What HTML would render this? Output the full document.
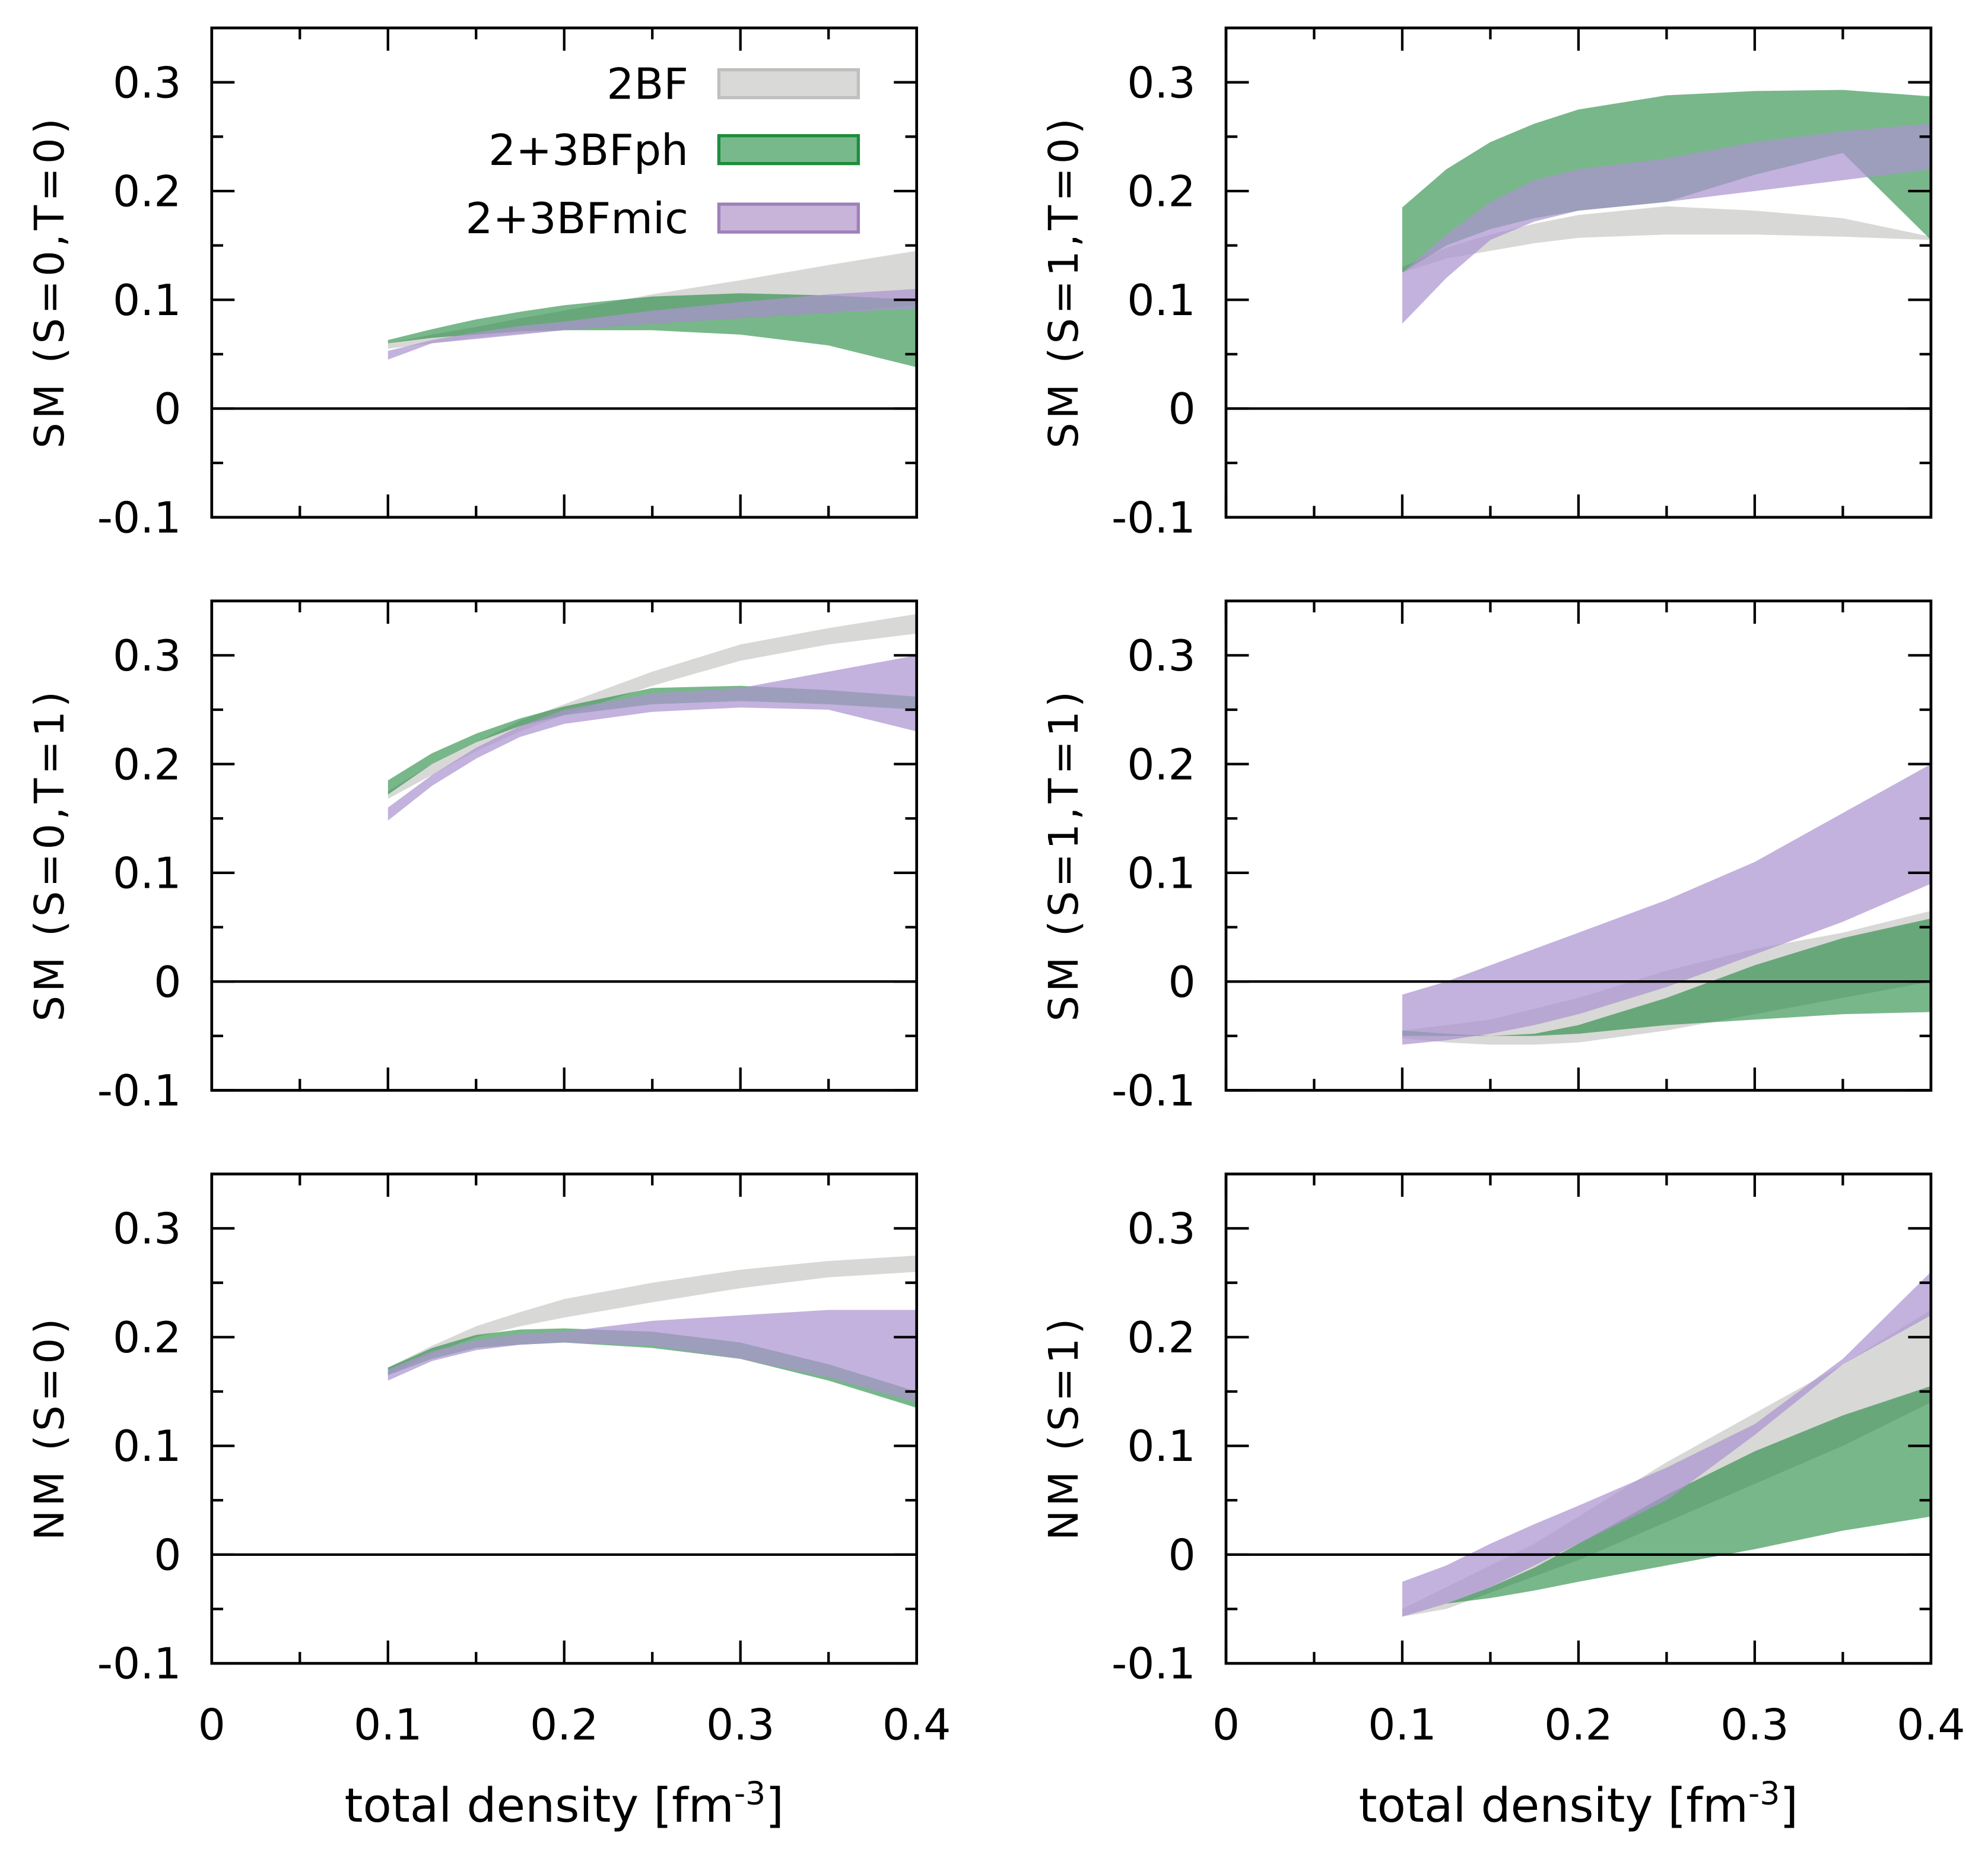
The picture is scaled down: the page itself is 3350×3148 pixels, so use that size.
<!DOCTYPE html>
<html><head><meta charset="utf-8"><style>
html,body{margin:0;padding:0;background:#fff}
svg{display:block}
text{font-family:"DejaVu Sans","Liberation Sans",sans-serif;fill:#000}
</style></head><body>
<svg id="chart" width="3350" height="3148" viewBox="0 0 1568 1473.4" xmlns="http://www.w3.org/2000/svg"></svg>
<script>
const xs = [0.1,0.125,0.15,0.175,0.2,0.25,0.3,0.35,0.4];
const xTicks = [0,0.1,0.2,0.3,0.4];
const xTickLabels = ["0","0.1","0.2","0.3","0.4"];
const yTicks = [0.3,0.2,0.1,0,-0.1];
const yTickLabels = ["0.3","0.2","0.1","0","-0.1"];
const panelTitles = ["SM (S=0,T=0)","SM (S=1,T=0)","SM (S=0,T=1)","SM (S=1,T=1)","NM (S=0)","NM (S=1)"];
const seriesNames = ["2BF","2+3BFph","2+3BFmic"];
// panel 1
const p1GrayLo=[.055,.060,.065,.069,.072,.078,.083,.088,.095];
const p1GrayHi=[.060,.068,.075,.083,.090,.105,.118,.132,.145];
const p1GreenLo=[.060,.065,.068,.071,.072,.072,.068,.058,.038];
const p1GreenHi=[.063,.073,.082,.089,.095,.103,.106,.104,.100];
const p1PurpLo=[.045,.060,.064,.068,.072,.078,.083,.088,.092];
const p1PurpHi=[.053,.063,.070,.076,.080,.090,.098,.105,.110];
// panel 2
const p2GrayLo=[.125,.138,.145,.152,.157,.160,.160,.158,.155];
const p2GrayHi=[.130,.148,.160,.170,.178,.186,.182,.175,.158];
const p2GreenLo=[.125,.150,.165,.175,.182,.190,.215,.235,.155];
const p2GreenHi=[.185,.220,.245,.262,.275,.288,.292,.293,.287];
const p2PurpLo=[.078,.120,.155,.172,.182,.190,.200,.210,.220];
const p2PurpHi=[.125,.160,.190,.210,.220,.230,.245,.255,.262];
// panel 3
const p3GrayLo=[.168,.190,.212,.230,.245,.272,.295,.310,.320];
const p3GrayHi=[.175,.200,.220,.240,.255,.285,.310,.325,.338];
const p3GreenLo=[.172,.200,.220,.235,.245,.255,.258,.255,.250];
const p3GreenHi=[.185,.210,.228,.242,.253,.270,.272,.268,.262];
const p3PurpLo=[.148,.180,.205,.225,.237,.248,.252,.250,.230];
const p3PurpHi=[.160,.190,.215,.235,.250,.265,.270,.285,.300];
// panel 4
const p4GrayLo=[-.052,-.056,-.058,-.058,-.056,-.045,-.030,-.015,.000];
const p4GrayHi=[-.045,-.040,-.035,-.025,-.015,.010,.030,.045,.065];
const p4GreenLo=[-.050,-.050,-.050,-.050,-.048,-.040,-.035,-.030,-.028];
const p4GreenHi=[-.045,-.048,-.050,-.048,-.040,-.015,.015,.040,.058];
const p4PurpLo=[-.058,-.054,-.048,-.040,-.030,-.005,.025,.055,.090];
const p4PurpHi=[-.012,.000,.015,.030,.045,.075,.110,.155,.200];
// panel 5
const p5GrayLo=[.165,.185,.200,.210,.218,.232,.245,.255,.260];
const p5GrayHi=[.172,.192,.210,.223,.235,.250,.262,.270,.275];
const p5GreenLo=[.165,.180,.190,.193,.195,.190,.180,.160,.135];
const p5GreenHi=[.172,.190,.202,.207,.208,.205,.195,.175,.150];
const p5PurpLo=[.160,.178,.188,.193,.195,.192,.180,.163,.140];
const p5PurpHi=[.170,.187,.197,.203,.205,.215,.220,.225,.225];
// panel 6
const p6GrayLo=[-.057,-.050,-.035,-.020,-.005,.030,.065,.100,.140];
const p6GrayHi=[-.050,-.030,-.010,.010,.035,.085,.130,.175,.225];
const p6GreenLo=[-.050,-.045,-.040,-.033,-.025,-.010,.005,.022,.035];
const p6GreenHi=[-.050,-.045,-.030,-.012,.010,.055,.095,.128,.155];
const p6PurpLo=[-.057,-.045,-.030,-.010,.010,.050,.110,.175,.220];
const p6PurpHi=[-.025,-.010,.010,.028,.045,.080,.120,.180,.260];

const panelData=[
 [[p1GrayLo,p1GrayHi],[p1GreenLo,p1GreenHi],[p1PurpLo,p1PurpHi]],
 [[p2GrayLo,p2GrayHi],[p2GreenLo,p2GreenHi],[p2PurpLo,p2PurpHi]],
 [[p3GrayLo,p3GrayHi],[p3GreenLo,p3GreenHi],[p3PurpLo,p3PurpHi]],
 [[p4GrayLo,p4GrayHi],[p4GreenLo,p4GreenHi],[p4PurpLo,p4PurpHi]],
 [[p5GrayLo,p5GrayHi],[p5GreenLo,p5GreenHi],[p5PurpLo,p5PurpHi]],
 [[p6GrayLo,p6GrayHi],[p6GreenLo,p6GreenHi],[p6PurpLo,p6PurpHi]]
];
const fills=["rgba(200,200,196,0.7)","rgba(30,135,60,0.6)","rgba(172,148,208,0.72)"];
const legFill=["#d9d9d7","#78b98c","#c8b4d8"];
const legStroke=["#bfbfbf","#1e8c3c","#9e80bb"];
const seriesKeys=["2bf","3bfph","3bfmic"];

const NS="http://www.w3.org/2000/svg";
const svg=document.getElementById('chart');
function mk(tag,attrs,parent){const e=document.createElementNS(NS,tag);for(const k in attrs)e.setAttribute(k,attrs[k]);(parent||svg).appendChild(e);return e;}

const colX=[167,967], rowY=[22,474,926], PW=556, PH=386;
panelTitles.forEach((title,i)=>{
  const L=colX[i%2], T=rowY[Math.floor(i/2)], R=L+PW, B=T+PH;
  const sx=v=>L+v/0.4*PW;
  const sy=v=>B-(v+0.1)/0.45*PH;
  const g=mk('g',{});
  
  
  panelData[i].forEach((band,s)=>{
    const [lo,hi]=band;
    let d='M'+xs.map((x,k)=>sx(x)+','+sy(hi[k])).join('L');
    d+='L'+xs.map((x,k)=>sx(x)+','+sy(lo[k])).reverse().join('L')+'Z';
    const p=mk('path',{d:d,fill:fills[s],stroke:'none'},g);
    
    
  });
  const z=mk('line',{x1:L,x2:R,y1:sy(0),y2:sy(0),stroke:'#000','stroke-width':2},g);
  
  
  for(let k=0;k<=8;k++){const v=k*0.05,x=sx(v),len=(k%2==0)?18:9;
    mk('line',{x1:x,x2:x,y1:B,y2:B-len,stroke:'#000','stroke-width':2},g);
    mk('line',{x1:x,x2:x,y1:T,y2:T+len,stroke:'#000','stroke-width':2},g);}
  for(let k=-2;k<=6;k++){const v=k*0.05,y=sy(v),len=(k%2==0)?18:9;
    mk('line',{x1:L,x2:L+len,y1:y,y2:y,stroke:'#000','stroke-width':2},g);
    mk('line',{x1:R,x2:R-len,y1:y,y2:y,stroke:'#000','stroke-width':2},g);}
  const fr=mk('rect',{x:L,y:T,width:PW,height:PH,fill:'none',stroke:'#000','stroke-width':2.2},g);
  
  
  yTicks.forEach((v,k)=>{const t=mk('text',{x:L-24,y:sy(v)+12,'text-anchor':'end','font-size':34},g);t.textContent=yTickLabels[k];
    
    });
  if(Math.floor(i/2)==2){
    xTicks.forEach((v,k)=>{const t=mk('text',{x:sx(v),y:B+60,'text-anchor':'middle','font-size':34},g);t.textContent=xTickLabels[k];
      
      });
    const xt=mk('text',{x:L+PW/2,y:B+125,'text-anchor':'middle','font-size':37},g);
    xt.innerHTML='total density [fm<tspan dy="-14" font-size="25">-3</tspan><tspan dy="14">]</tspan>';
    
    
  }
  const yt=mk('text',{x:0,y:0,'text-anchor':'middle','font-size':32,'letter-spacing':3,transform:`translate(${L-117},${T+PH/2+7}) rotate(-90)`},g);
  yt.textContent=title;
  
  
  if(i==0){
    const lg=mk('g',{},g);
    
    
    const ly=[66,118,172];
    seriesNames.forEach((n,s)=>{
      const e=mk('g',{},lg);
      
      
      const t=mk('text',{x:543,y:ly[s]+12,'text-anchor':'end','font-size':34},e);t.textContent=n;
      mk('rect',{x:567,y:ly[s]-11,width:110,height:22,fill:legFill[s],stroke:legStroke[s],'stroke-width':2.5},e);
    });
  }
});
</script>
</body></html>
